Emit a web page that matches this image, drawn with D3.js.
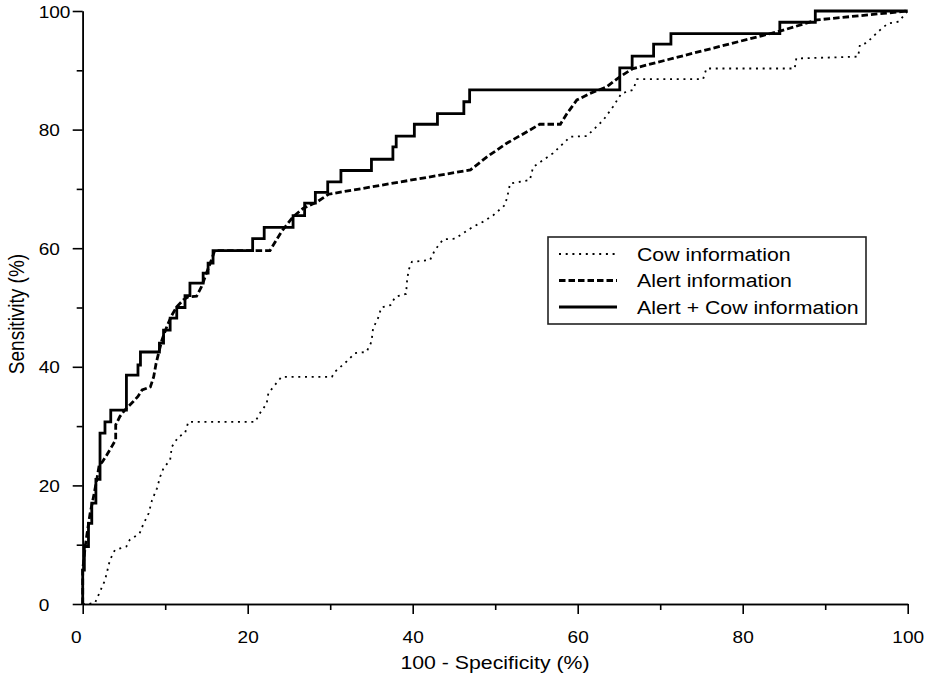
<!DOCTYPE html>
<html>
<head>
<meta charset="utf-8">
<script src="https://cdn.jsdelivr.net/npm/d3@7"></script>
<style>
body { margin: 0; background: #fff; }
text { font-family: "Liberation Sans", Arial, sans-serif; fill: #000; }
</style>
</head>
<body>
<script>
var w = 940;
var h = 687;

// ROC curves, [100 - specificity, sensitivity] in %
var cowInfo = [[0, 0], [0.7, 0], [1.5, 0.2], [2.7, 4], [3.3, 7.4], [3.9, 9.1], [5.3, 9.7], [5.7, 10.8], [6.9, 11.9], [7.3, 13.3],
    [8.0, 15.3], [8.4, 17.5], [9.0, 19.5], [9.4, 21.5], [9.8, 22.9], [10.6, 24.3], [10.8, 26.5], [11.6, 28.2], [12.4, 28.8],
    [12.8, 30.7], [20.9, 30.7], [21.5, 32.2], [22.3, 33.8], [22.5, 35.5], [23.1, 36.6], [24.1, 38.3], [30.2, 38.3], [30.6, 39.2],
    [32, 40.9], [33, 42.3], [34.4, 42.5], [35, 44.2], [35.2, 46.5], [35.8, 48.2], [36.2, 50], [37.3, 50.4], [37.9, 51.8],
    [39.2, 52.3], [39.3, 54.3], [39.5, 56.3], [39.9, 57.7], [42.1, 58], [42.7, 59.7], [43.7, 61.5], [45.1, 61.6], [47.3, 63.6],
    [48.6, 64.5], [49.8, 65.6], [51.2, 67.3], [51.6, 69.5], [51.8, 70.9], [54.2, 71.5], [54.6, 73.7], [57, 76], [59.1, 78.8],
    [61.1, 78.9], [63.1, 81.6], [64.3, 83.9], [65.3, 86.1], [66.7, 86.7], [67.2, 88.5], [75.2, 88.5], [75.6, 90.3], [86.3, 90.3],
    [86.5, 92], [94, 92.3], [94.2, 94.3], [95, 94.6], [96.4, 96.5], [97.6, 97.9], [98.9, 98.2], [100, 100]];

var alertInfo = [[0, 0], [0, 5.7], [0.3, 9.7], [0.9, 15.3], [1.3, 18], [1.7, 20.9], [2.0, 23.4], [2.4, 24], [2.9, 25.1], [3.5, 26.5],
    [4.0, 27.7], [4.0, 30.2], [4.5, 31.6], [5.1, 32.7], [6.1, 34.1], [6.7, 35], [7.2, 36.1], [8.2, 36.6], [8.6, 38.3], [8.9, 40.6],
    [9.2, 42.3], [9.6, 44.5], [10.2, 46.8], [10.8, 48.7], [11.4, 50.1], [12.2, 51.3], [12.8, 51.8], [13.8, 51.9], [14.4, 53.5],
    [15.0, 55.8], [15.6, 58], [16.0, 59.6], [22.7, 59.6], [24.1, 62.8], [25.5, 65.3], [26.7, 66.7], [28.4, 67.8], [29.8, 69.1],
    [47.0, 73.2], [49, 75.4], [51.4, 77.7], [53.8, 79.6], [55.4, 80.9], [57.9, 80.9], [58.7, 82.7], [59.9, 85], [61.5, 86.1],
    [63.5, 87.2], [65.1, 88.9], [66.7, 90.3], [84.5, 96.6], [89, 98.5], [100, 100]];

// step points: x where the curve jumps, level reached
var alertCowInfo = [[0, 0], [0, 5.7], [0.2, 9.7], [0.7, 13.6], [1.1, 17], [1.6, 21], [2.1, 28.8], [2.7, 30.7], [3.4, 32.7],
    [5.3, 38.6], [6.7, 40.3], [7.0, 42.5], [9.3, 44], [9.8, 46.2], [10.6, 48.2], [11.4, 50], [12.4, 52], [13.0, 54.1],
    [14.6, 55.8], [15.2, 57.5], [15.8, 59.6], [20.6, 61.6], [22, 63.5], [25.5, 65.5], [26.9, 67.6], [28.2, 69.4], [29.7, 71.2],
    [31.3, 73.1], [35, 75], [37.6, 77.1], [38, 78.9], [40.2, 80.9], [43, 82.7], [46.2, 84.7], [46.9, 86.7], [65.1, 90.4],
    [66.6, 92.4], [69.2, 94.4], [71.3, 96.2], [84.5, 98.1], [88.8, 100], [100, 100]];

var majorTicks = [0, 20, 40, 60, 80, 100];
var minorTicks = [10, 30, 50, 70, 90];
var legendLabels = ["Cow information", "Alert information", "Alert + Cow information"];

// the original picture is a little wider than tall, text included
var sx = 1.12;

var x = d3.scaleLinear().domain([0, 100]).range([82.7, 907.7]);
var y = d3.scaleLinear().domain([0, 100]).range([604, 11]);

var svg = d3.select("body")
    .append("svg")
    .attr("width", w)
    .attr("height", h);

// axes
svg.append("g")
    .attr("transform", "translate(0,604)")
    .call(d3.axisBottom(x).tickValues(minorTicks).tickSize(6).tickSizeOuter(0).tickFormat(""));
var xMajor = svg.append("g")
    .attr("transform", "translate(0,604)")
    .call(d3.axisBottom(x).tickValues(majorTicks).tickSize(10).tickSizeOuter(0).tickPadding(17));
svg.append("g")
    .attr("transform", "translate(82.7,0)")
    .call(d3.axisLeft(y).tickValues(minorTicks).tickSize(6).tickSizeOuter(0).tickFormat(""));
var yMajor = svg.append("g")
    .attr("transform", "translate(82.7,0)")
    .call(d3.axisLeft(y).tickValues(majorTicks).tickSize(10).tickSizeOuter(0));

svg.selectAll(".domain, .tick line")
    .attr("stroke", "#000")
    .attr("stroke-width", 1.6);
svg.selectAll(".tick text")
    .attr("font-family", "Liberation Sans, Arial, sans-serif")
    .attr("font-size", "17px")
    .attr("fill", "#000")
    .attr("transform", "scale(" + sx + ",1)");
xMajor.selectAll(".tick text")
    .attr("x", function (d) { return d === 0 ? -7 / sx : 0; });
yMajor.selectAll(".tick text")
    .attr("text-anchor", "start")
    .attr("x", -44 / sx)
    .attr("dy", "0.36em");

svg.append("text")
    .attr("transform", "translate(495,669) scale(" + sx + ",1)")
    .attr("text-anchor", "middle")
    .attr("font-size", "19px")
    .text("100 - Specificity (%)");
svg.append("text")
    .attr("transform", "translate(24,314) scale(" + sx + ",1) rotate(-90)")
    .attr("text-anchor", "middle")
    .attr("font-size", "19px")
    .text("Sensitivity (%)");

// curves
var line = d3.line()
    .x(function (d) { return x(d[0]); })
    .y(function (d) { return y(d[1]); });
var stepLine = d3.line()
    .curve(d3.curveStepAfter)
    .x(function (d) { return x(d[0]); })
    .y(function (d) { return y(d[1]); });

var styles = [
    { width: 1.8, dash: "2,4.7" },
    { width: 2.8, dash: "6.5,3" },
    { width: 2.8, dash: null }
];

svg.append("path")
    .datum(cowInfo)
    .attr("d", line)
    .attr("fill", "none")
    .attr("stroke", "#000")
    .attr("stroke-width", styles[0].width)
    .attr("stroke-dasharray", styles[0].dash);
svg.append("path")
    .datum(alertInfo)
    .attr("d", line)
    .attr("fill", "none")
    .attr("stroke", "#000")
    .attr("stroke-width", styles[1].width)
    .attr("stroke-dasharray", styles[1].dash);
svg.append("path")
    .datum(alertCowInfo)
    .attr("d", stepLine)
    .attr("fill", "none")
    .attr("stroke", "#000")
    .attr("stroke-width", styles[2].width);

// legend
var legend = svg.append("g").attr("transform", "translate(548,237)");
legend.append("rect")
    .attr("width", 318)
    .attr("height", 87)
    .attr("fill", "#fff")
    .attr("stroke", "#222")
    .attr("stroke-width", 1.6);
legend.selectAll("line")
    .data(legendLabels)
    .enter()
    .append("line")
    .attr("x1", 11)
    .attr("x2", 69)
    .attr("y1", function (d, i) { return 17 + i * 26.5; })
    .attr("y2", function (d, i) { return 17 + i * 26.5; })
    .attr("stroke", "#000")
    .attr("stroke-width", function (d, i) { return styles[i].width; })
    .attr("stroke-dasharray", function (d, i) { return styles[i].dash; });
legend.selectAll("text")
    .data(legendLabels)
    .enter()
    .append("text")
    .attr("transform", function (d, i) { return "translate(89," + (17 + i * 26.5) + ") scale(" + sx + ",1)"; })
    .attr("dy", "0.36em")
    .attr("font-size", "19px")
    .text(function (d) { return d; });
</script>
</body>
</html>
